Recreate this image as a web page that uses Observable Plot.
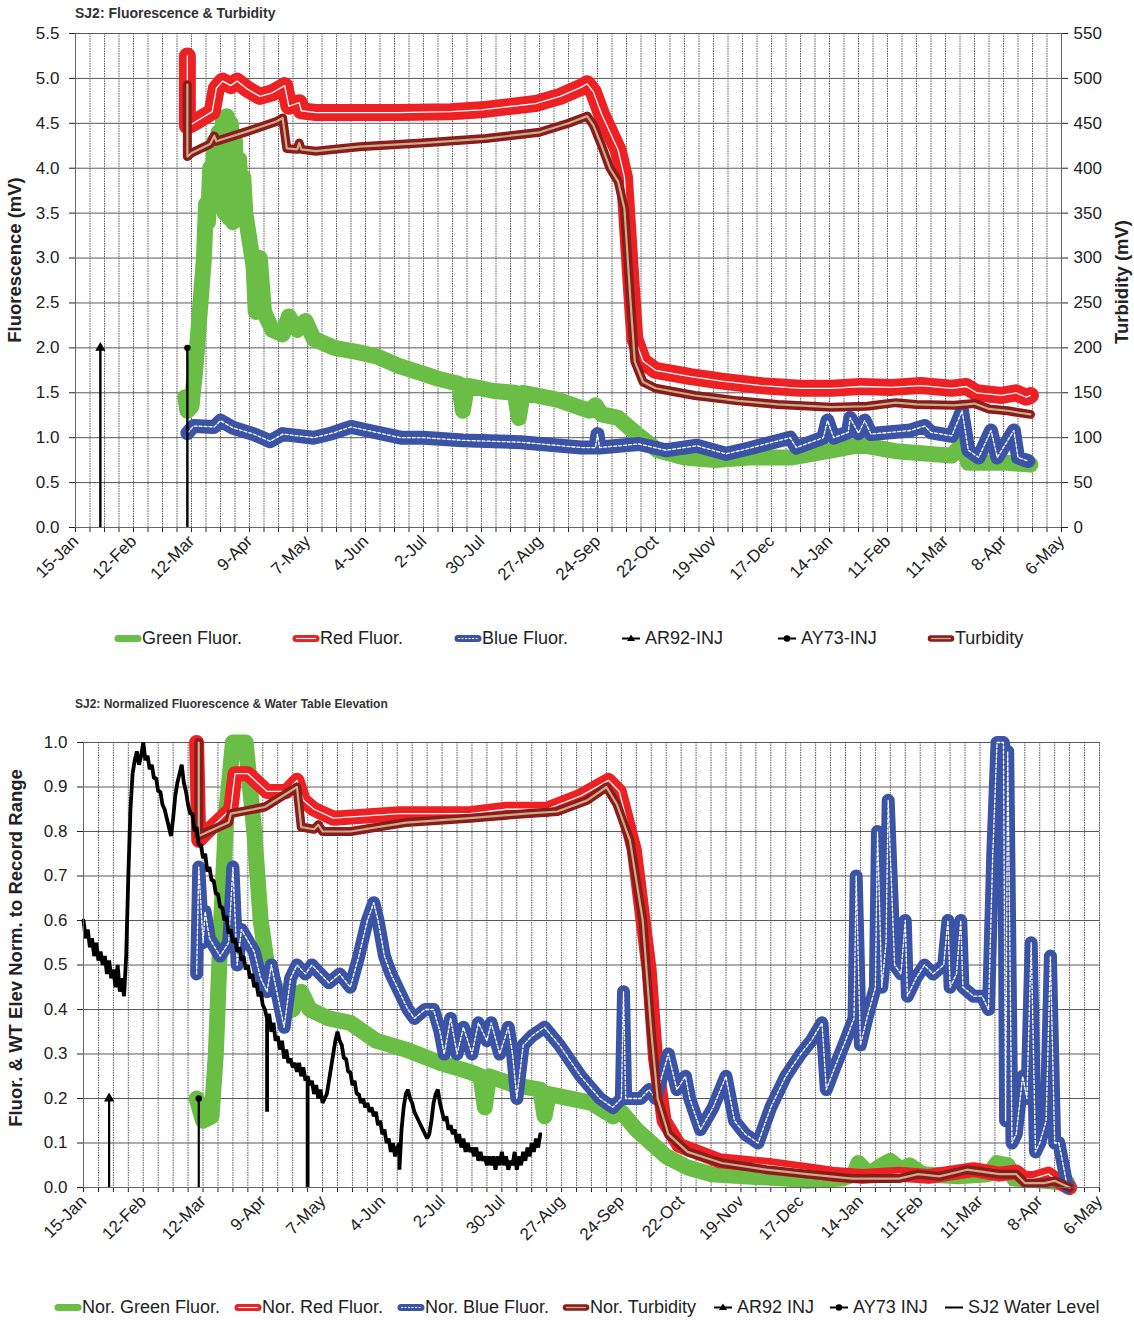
<!DOCTYPE html>
<html><head><meta charset="utf-8">
<script src="https://cdn.jsdelivr.net/npm/d3@7"></script>
<script src="https://cdn.jsdelivr.net/npm/@observablehq/plot@0.6"></script>
<style>
body{margin:0;background:#fff;font-family:"Liberation Sans",Arial,sans-serif;}
#page{position:relative;width:1134px;height:1322px;overflow:hidden;background:#fff;}
.abs{position:absolute;white-space:nowrap;color:#222;}
.title{font-weight:bold;color:#333;}
.ylab{font-weight:bold;font-size:18.5px;color:#222;transform:translate(-50%,-50%) rotate(-90deg);}
.leg{font-size:18px;display:flex;align-items:center;transform:translateY(-50%);color:#222;}
.leg svg{margin-right:1px;}
</style></head><body><div id="page"></div>
<script>
// ---------- axis ticks ----------
const xTickDates = ["2010-01-15","2010-02-12","2010-03-12","2010-04-09","2010-05-07","2010-06-04","2010-07-02","2010-07-30","2010-08-27","2010-09-24","2010-10-22","2010-11-19","2010-12-17","2011-01-14","2011-02-11","2011-03-11","2011-04-08","2011-05-06"];
const xTickLabels = ["15-Jan","12-Feb","12-Mar","9-Apr","7-May","4-Jun","2-Jul","30-Jul","27-Aug","24-Sep","22-Oct","19-Nov","17-Dec","14-Jan","11-Feb","11-Mar","8-Apr","6-May"];
const fluorTicks = [0,0.5,1,1.5,2,2.5,3,3.5,4,4.5,5,5.5];
const turbTicks = [0,50,100,150,200,250,300,350,400,450,500,550];
const normTicks = [0,0.1,0.2,0.3,0.4,0.5,0.6,0.7,0.8,0.9,1.0];

// ---------- top chart: fluorescence (mV) and turbidity (mV) ----------
const greenFluor = [["2010-03-09",1.45],["2010-03-10",1.3],["2010-03-12",1.35],["2010-03-14",1.8],["2010-03-16",2.4],["2010-03-18",3.0],["2010-03-19",3.6],["2010-03-20",3.4],["2010-03-21",4.0],["2010-03-22",3.7],["2010-03-23",4.3],["2010-03-24",3.7],["2010-03-25",4.4],["2010-03-26",3.6],["2010-03-27",4.5],["2010-03-28",3.5],["2010-03-29",4.58],["2010-03-30",3.45],["2010-03-31",4.5],["2010-04-01",3.4],["2010-04-02",4.3],["2010-04-03",3.5],["2010-04-04",4.1],["2010-04-05",3.6],["2010-04-06",3.9],["2010-04-07",3.5],["2010-04-09",3.2],["2010-04-11",2.9],["2010-04-12",2.4],["2010-04-14",3.0],["2010-04-16",2.4],["2010-04-18",2.3],["2010-04-20",2.2],["2010-04-25",2.15],["2010-04-28",2.35],["2010-05-02",2.2],["2010-05-06",2.3],["2010-05-10",2.1],["2010-05-20",2.0],["2010-06-01",1.95],["2010-06-10",1.9],["2010-06-20",1.8],["2010-07-01",1.72],["2010-07-10",1.65],["2010-07-19",1.6],["2010-07-21",1.3],["2010-07-23",1.58],["2010-08-05",1.52],["2010-08-15",1.5],["2010-08-17",1.22],["2010-08-19",1.5],["2010-09-05",1.42],["2010-09-20",1.3],["2010-09-23",1.36],["2010-09-26",1.26],["2010-10-04",1.22],["2010-10-13",1.04],["2010-10-23",0.86],["2010-11-05",0.78],["2010-11-20",0.75],["2010-12-06",0.78],["2010-12-27",0.78],["2011-01-15",0.86],["2011-01-29",0.92],["2011-02-15",0.85],["2011-03-14",0.8],["2011-03-19",0.92],["2011-03-22",0.72],["2011-04-10",0.72],["2011-04-21",0.7]];
const redFluor = [["2010-03-10",5.25],["2010-03-10",4.47],["2010-03-12",4.49],["2010-03-22",4.63],["2010-03-24",4.89],["2010-03-27",4.97],["2010-03-31",4.92],["2010-04-03",4.97],["2010-04-08",4.88],["2010-04-14",4.8],["2010-04-20",4.84],["2010-04-26",4.92],["2010-04-28",4.69],["2010-05-03",4.73],["2010-05-04",4.64],["2010-05-11",4.62],["2010-06-20",4.62],["2010-07-15",4.63],["2010-07-30",4.65],["2010-08-10",4.68],["2010-08-25",4.72],["2010-09-06",4.8],["2010-09-16",4.9],["2010-09-19",4.94],["2010-09-22",4.85],["2010-09-26",4.6],["2010-09-30",4.4],["2010-10-04",4.2],["2010-10-07",3.9],["2010-10-10",2.8],["2010-10-12",2.1],["2010-10-16",1.85],["2010-10-22",1.75],["2010-11-08",1.68],["2010-11-23",1.63],["2010-12-12",1.58],["2010-12-31",1.55],["2011-01-15",1.55],["2011-01-29",1.57],["2011-02-13",1.56],["2011-02-27",1.58],["2011-03-14",1.55],["2011-03-21",1.57],["2011-03-26",1.5],["2011-04-07",1.47],["2011-04-14",1.5],["2011-04-19",1.45],["2011-04-21",1.47]];
const blueFluor = [["2010-03-10",1.05],["2010-03-13",1.13],["2010-03-23",1.12],["2010-03-26",1.19],["2010-04-01",1.11],["2010-04-11",1.04],["2010-04-19",0.96],["2010-04-25",1.04],["2010-05-10",1.0],["2010-05-19",1.05],["2010-05-28",1.12],["2010-06-05",1.08],["2010-06-21",1.0],["2010-07-02",1.0],["2010-07-21",0.97],["2010-08-18",0.95],["2010-09-16",0.89],["2010-09-23",0.89],["2010-09-24",1.04],["2010-09-25",0.89],["2010-10-14",0.93],["2010-10-27",0.86],["2010-11-11",0.91],["2010-11-25",0.82],["2010-12-06",0.88],["2010-12-26",1.0],["2010-12-29",0.89],["2011-01-11",1.0],["2011-01-13",1.19],["2011-01-16",1.0],["2011-01-23",1.06],["2011-01-24",1.22],["2011-01-28",1.05],["2011-01-31",1.19],["2011-02-03",1.04],["2011-02-22",1.08],["2011-03-01",1.13],["2011-03-04",1.06],["2011-03-14",1.02],["2011-03-19",1.3],["2011-03-22",0.86],["2011-03-27",0.78],["2011-04-02",1.08],["2011-04-05",0.78],["2011-04-13",1.08],["2011-04-15",0.78],["2011-04-20",0.74]];
const turbidity = [["2010-03-10",493],["2010-03-10",413],["2010-03-12",417],["2010-03-21",427],["2010-03-23",436],["2010-03-24",430],["2010-04-08",441],["2010-04-22",452],["2010-04-25",456],["2010-04-27",422],["2010-05-02",421],["2010-05-03",428],["2010-05-04",421],["2010-05-11",419],["2010-06-01",424],["2010-07-01",428],["2010-08-01",433],["2010-08-27",440],["2010-09-10",450],["2010-09-19",458],["2010-09-22",448],["2010-09-26",425],["2010-09-30",400],["2010-10-04",385],["2010-10-07",355],["2010-10-10",250],["2010-10-12",185],["2010-10-16",162],["2010-10-22",155],["2010-11-10",147],["2010-12-01",141],["2010-12-20",137],["2011-01-15",134],["2011-02-01",135],["2011-02-15",139],["2011-02-25",137],["2011-03-15",136],["2011-03-25",138],["2011-04-01",132],["2011-04-10",130],["2011-04-15",128],["2011-04-21",126]];
const ar92Inj = [["2010-01-27",2.0]];
const ay73Inj = [["2010-03-10",2.0]];

// ---------- bottom chart: normalized values ----------
const normGreen = [["2010-03-09",0.2],["2010-03-12",0.15],["2010-03-16",0.16],["2010-03-18",0.3],["2010-03-20",0.55],["2010-03-23",0.85],["2010-03-26",1.0],["2010-04-01",1.0],["2010-04-03",0.9],["2010-04-05",0.8],["2010-04-08",0.6],["2010-04-11",0.5],["2010-04-15",0.45],["2010-04-19",0.42],["2010-04-23",0.4],["2010-04-27",0.44],["2010-05-01",0.4],["2010-05-10",0.38],["2010-05-20",0.37],["2010-06-01",0.33],["2010-06-15",0.31],["2010-07-01",0.28],["2010-07-15",0.26],["2010-07-20",0.25],["2010-07-22",0.18],["2010-07-24",0.25],["2010-08-05",0.23],["2010-08-17",0.22],["2010-08-19",0.16],["2010-08-21",0.21],["2010-09-10",0.19],["2010-09-20",0.16],["2010-09-24",0.17],["2010-10-01",0.13],["2010-10-08",0.1],["2010-10-15",0.07],["2010-10-25",0.045],["2010-11-05",0.03],["2010-11-20",0.025],["2010-12-10",0.02],["2010-12-20",0.015],["2011-01-05",0.02],["2011-01-11",0.03],["2011-01-13",0.055],["2011-01-18",0.03],["2011-01-24",0.05],["2011-01-28",0.06],["2011-02-02",0.04],["2011-02-06",0.05],["2011-02-12",0.03],["2011-03-01",0.025],["2011-03-15",0.03],["2011-03-19",0.055],["2011-03-24",0.05],["2011-03-27",0.02],["2011-04-10",0.015],["2011-04-21",0.01]];
const normRed = [["2010-03-09",1.0],["2010-03-10",0.78],["2010-03-14",0.8],["2010-03-25",0.85],["2010-03-27",0.93],["2010-04-02",0.93],["2010-04-11",0.89],["2010-04-20",0.89],["2010-04-25",0.915],["2010-04-28",0.87],["2010-05-03",0.85],["2010-05-12",0.83],["2010-06-12",0.84],["2010-07-15",0.84],["2010-08-01",0.85],["2010-08-20",0.85],["2010-09-05",0.88],["2010-09-18",0.915],["2010-09-23",0.89],["2010-09-30",0.76],["2010-10-07",0.49],["2010-10-10",0.29],["2010-10-14",0.15],["2010-10-21",0.095],["2010-11-09",0.06],["2010-12-01",0.05],["2010-12-17",0.04],["2011-01-01",0.03],["2011-01-15",0.025],["2011-02-01",0.03],["2011-02-15",0.025],["2011-03-01",0.035],["2011-03-08",0.04],["2011-03-20",0.03],["2011-03-28",0.035],["2011-04-01",0.02],["2011-04-05",0.02],["2011-04-12",0.03],["2011-04-18",0.01],["2011-04-22",0.0]];
const normBlue = [["2010-03-09",0.48],["2010-03-10",0.72],["2010-03-12",0.55],["2010-03-13",0.62],["2010-03-15",0.56],["2010-03-20",0.52],["2010-03-24",0.55],["2010-03-26",0.72],["2010-03-28",0.5],["2010-03-30",0.58],["2010-04-05",0.53],["2010-04-08",0.47],["2010-04-11",0.44],["2010-04-13",0.5],["2010-04-16",0.43],["2010-04-19",0.36],["2010-04-22",0.47],["2010-04-25",0.5],["2010-04-29",0.48],["2010-05-02",0.5],["2010-05-06",0.48],["2010-05-10",0.46],["2010-05-15",0.48],["2010-05-20",0.45],["2010-05-24",0.52],["2010-05-28",0.6],["2010-05-31",0.64],["2010-06-02",0.6],["2010-06-05",0.52],["2010-06-08",0.48],["2010-06-12",0.44],["2010-06-16",0.4],["2010-06-19",0.38],["2010-06-24",0.4],["2010-06-28",0.4],["2010-07-01",0.35],["2010-07-03",0.3],["2010-07-06",0.38],["2010-07-09",0.3],["2010-07-12",0.36],["2010-07-16",0.3],["2010-07-19",0.37],["2010-07-23",0.33],["2010-07-25",0.37],["2010-07-29",0.3],["2010-08-02",0.36],["2010-08-04",0.3],["2010-08-06",0.2],["2010-08-09",0.32],["2010-08-13",0.34],["2010-08-19",0.36],["2010-08-26",0.32],["2010-09-05",0.25],["2010-09-14",0.2],["2010-09-20",0.18],["2010-09-24",0.2],["2010-09-25",0.44],["2010-09-26",0.2],["2010-10-03",0.2],["2010-10-07",0.22],["2010-10-10",0.2],["2010-10-16",0.3],["2010-10-20",0.22],["2010-10-24",0.25],["2010-10-26",0.2],["2010-10-31",0.13],["2010-11-06",0.18],["2010-11-12",0.25],["2010-11-16",0.15],["2010-11-21",0.12],["2010-11-27",0.1],["2010-12-03",0.18],["2010-12-10",0.25],["2010-12-17",0.3],["2010-12-22",0.33],["2010-12-27",0.37],["2010-12-29",0.22],["2011-01-02",0.27],["2011-01-07",0.33],["2011-01-11",0.38],["2011-01-12",0.7],["2011-01-14",0.32],["2011-01-17",0.38],["2011-01-21",0.45],["2011-01-22",0.8],["2011-01-24",0.45],["2011-01-26",0.55],["2011-01-27",0.87],["2011-01-30",0.5],["2011-02-02",0.48],["2011-02-04",0.6],["2011-02-05",0.43],["2011-02-09",0.47],["2011-02-13",0.5],["2011-02-17",0.48],["2011-02-22",0.5],["2011-02-24",0.6],["2011-02-25",0.45],["2011-02-28",0.48],["2011-03-02",0.6],["2011-03-03",0.45],["2011-03-08",0.43],["2011-03-12",0.43],["2011-03-15",0.4],["2011-03-17",0.75],["2011-03-19",1.0],["2011-03-22",1.0],["2011-03-23",0.15],["2011-03-24",0.98],["2011-03-26",0.1],["2011-03-28",0.12],["2011-03-31",0.25],["2011-04-02",0.2],["2011-04-04",0.55],["2011-04-06",0.08],["2011-04-08",0.1],["2011-04-11",0.15],["2011-04-13",0.52],["2011-04-15",0.1],["2011-04-17",0.1],["2011-04-19",0.05],["2011-04-21",0.0]];
const normTurbidity = [["2010-03-10",1.0],["2010-03-10",0.79],["2010-03-24",0.82],["2010-03-25",0.84],["2010-04-10",0.855],["2010-04-25",0.9],["2010-04-27",0.81],["2010-05-03",0.805],["2010-05-05",0.815],["2010-05-07",0.8],["2010-05-20",0.8],["2010-06-15",0.82],["2010-07-15",0.83],["2010-08-10",0.84],["2010-08-25",0.845],["2010-09-08",0.87],["2010-09-17",0.9],["2010-09-22",0.86],["2010-09-28",0.78],["2010-10-04",0.6],["2010-10-08",0.35],["2010-10-11",0.2],["2010-10-16",0.12],["2010-10-25",0.08],["2010-11-10",0.055],["2010-12-01",0.04],["2010-12-20",0.03],["2011-01-10",0.02],["2011-02-01",0.02],["2011-02-10",0.03],["2011-02-20",0.025],["2011-03-05",0.04],["2011-03-20",0.03],["2011-03-28",0.03],["2011-04-01",0.01],["2011-04-10",0.01],["2011-04-15",0.015],["2011-04-22",0.0]];
const waterLevel = [["2010-01-15",0.60],["2010-01-16",0.56],["2010-01-17",0.58],["2010-01-18",0.54],["2010-01-19",0.56],["2010-01-20",0.52],["2010-01-21",0.55],["2010-01-22",0.51],["2010-01-23",0.53],["2010-01-24",0.50],["2010-01-25",0.52],["2010-01-26",0.48],["2010-01-27",0.51],["2010-01-28",0.47],["2010-01-29",0.49],["2010-01-30",0.45],["2010-01-31",0.50],["2010-02-01",0.44],["2010-02-02",0.47],["2010-02-03",0.43],["2010-02-04",0.52],["2010-02-05",0.70],["2010-02-06",0.85],["2010-02-07",0.93],["2010-02-08",0.96],["2010-02-09",0.98],["2010-02-10",0.95],["2010-02-11",0.97],["2010-02-12",1.0],["2010-02-13",0.96],["2010-02-14",0.97],["2010-02-15",0.94],["2010-02-16",0.95],["2010-02-17",0.92],["2010-02-18",0.92],["2010-02-19",0.89],["2010-02-20",0.89],["2010-02-21",0.86],["2010-02-22",0.85],["2010-02-23",0.83],["2010-02-24",0.81],["2010-02-25",0.79],["2010-02-26",0.83],["2010-02-27",0.88],["2010-02-28",0.91],["2010-03-01",0.93],["2010-03-02",0.95],["2010-03-03",0.91],["2010-03-04",0.89],["2010-03-05",0.86],["2010-03-06",0.84],["2010-03-07",0.84],["2010-03-08",0.80],["2010-03-09",0.81],["2010-03-10",0.77],["2010-03-11",0.77],["2010-03-12",0.74],["2010-03-13",0.75],["2010-03-14",0.71],["2010-03-15",0.72],["2010-03-16",0.69],["2010-03-17",0.69],["2010-03-18",0.66],["2010-03-19",0.66],["2010-03-20",0.63],["2010-03-21",0.63],["2010-03-22",0.60],["2010-03-23",0.61],["2010-03-24",0.57],["2010-03-25",0.58],["2010-03-26",0.55],["2010-03-27",0.56],["2010-03-28",0.53],["2010-03-29",0.54],["2010-03-30",0.51],["2010-03-31",0.52],["2010-04-01",0.49],["2010-04-02",0.50],["2010-04-03",0.47],["2010-04-04",0.48],["2010-04-05",0.45],["2010-04-06",0.46],["2010-04-07",0.43],["2010-04-08",0.44],["2010-04-09",0.41],["2010-04-10",0.40],["2010-04-11",0.38],["2010-04-11",0.17],["2010-04-11",0.38],["2010-04-12",0.39],["2010-04-13",0.35],["2010-04-14",0.37],["2010-04-15",0.33],["2010-04-16",0.34],["2010-04-17",0.31],["2010-04-18",0.33],["2010-04-19",0.29],["2010-04-20",0.31],["2010-04-21",0.28],["2010-04-22",0.29],["2010-04-23",0.27],["2010-04-24",0.28],["2010-04-25",0.26],["2010-04-26",0.28],["2010-04-27",0.25],["2010-04-28",0.27],["2010-04-29",0.24],["2010-04-30",0.25],["2010-04-30",0.0],["2010-04-30",0.25],["2010-05-01",0.23],["2010-05-02",0.24],["2010-05-03",0.21],["2010-05-04",0.23],["2010-05-05",0.20],["2010-05-06",0.22],["2010-05-07",0.19],["2010-05-08",0.20],["2010-05-09",0.21],["2010-05-10",0.24],["2010-05-11",0.27],["2010-05-12",0.30],["2010-05-13",0.33],["2010-05-14",0.35],["2010-05-15",0.33],["2010-05-16",0.32],["2010-05-17",0.29],["2010-05-18",0.29],["2010-05-19",0.26],["2010-05-20",0.26],["2010-05-21",0.23],["2010-05-22",0.24],["2010-05-23",0.21],["2010-05-24",0.21],["2010-05-25",0.19],["2010-05-26",0.20],["2010-05-27",0.18],["2010-05-28",0.19],["2010-05-29",0.17],["2010-05-30",0.18],["2010-05-31",0.16],["2010-06-01",0.17],["2010-06-02",0.14],["2010-06-03",0.15],["2010-06-04",0.12],["2010-06-05",0.13],["2010-06-06",0.10],["2010-06-07",0.11],["2010-06-08",0.08],["2010-06-09",0.10],["2010-06-10",0.07],["2010-06-11",0.09],["2010-06-12",0.10],["2010-06-12",0.04],["2010-06-13",0.13],["2010-06-14",0.18],["2010-06-15",0.21],["2010-06-16",0.22],["2010-06-17",0.20],["2010-06-18",0.19],["2010-06-19",0.17],["2010-06-20",0.16],["2010-06-21",0.15],["2010-06-22",0.14],["2010-06-23",0.13],["2010-06-24",0.12],["2010-06-25",0.11],["2010-06-26",0.12],["2010-06-27",0.15],["2010-06-28",0.19],["2010-06-29",0.21],["2010-06-30",0.22],["2010-07-01",0.19],["2010-07-02",0.17],["2010-07-03",0.15],["2010-07-04",0.16],["2010-07-05",0.13],["2010-07-06",0.14],["2010-07-07",0.12],["2010-07-08",0.13],["2010-07-09",0.10],["2010-07-10",0.12],["2010-07-11",0.09],["2010-07-12",0.11],["2010-07-13",0.08],["2010-07-14",0.10],["2010-07-15",0.08],["2010-07-16",0.09],["2010-07-17",0.07],["2010-07-18",0.09],["2010-07-19",0.06],["2010-07-20",0.08],["2010-07-21",0.06],["2010-07-22",0.07],["2010-07-23",0.05],["2010-07-24",0.07],["2010-07-25",0.05],["2010-07-26",0.07],["2010-07-27",0.04],["2010-07-28",0.07],["2010-07-29",0.05],["2010-07-30",0.08],["2010-07-31",0.05],["2010-08-01",0.07],["2010-08-02",0.04],["2010-08-03",0.06],["2010-08-04",0.05],["2010-08-05",0.08],["2010-08-06",0.04],["2010-08-07",0.07],["2010-08-08",0.05],["2010-08-09",0.08],["2010-08-10",0.06],["2010-08-11",0.09],["2010-08-12",0.07],["2010-08-13",0.10],["2010-08-14",0.08],["2010-08-15",0.11],["2010-08-16",0.09],["2010-08-17",0.12]];
const normAr92 = [["2010-01-27",0.2]];
const normAy73 = [["2010-03-10",0.2]];

// ---------- colours ----------
const C = {green:"#6abd45", red:"#ed2024", blue:"#3a53a4", turb:"#8a1c1c", tan:"#c8ad86", grid:"#5a5a5a"};

const page = document.getElementById("page");
const P = d => new Date(d);
const start = P(xTickDates[0]), end = P(xTickDates[xTickDates.length-1]);
const weeks = d3.range(0, (end - start)/864e5 + 1, 7).map(k => d3.utcDay.offset(start, k));
const labelMap = new Map(xTickDates.map((d,i)=>[+P(d), xTickLabels[i]]));
const X = d => P(d[0]), Y = d => d[1];

function place(el, x, y){ el.style.left = x+"px"; el.style.top = y+"px"; page.appendChild(el); return el; }
function div(cls, html, x, y, style=""){ const e=document.createElement("div"); e.className="abs "+cls; e.innerHTML=html; e.style.cssText += style; return place(e,x,y); }

function baseMarks(yTicks){
  return [
    Plot.frame({stroke:"#c8c8c8"}),
    Plot.gridX({ticks: weeks, stroke: C.grid, strokeOpacity: 1, strokeDasharray: "1.5,1"}),
    Plot.gridY({ticks: yTicks, stroke: C.grid, strokeOpacity: 1}),
    Plot.axisX({ticks: weeks, tickFormat: d => labelMap.get(+d) ?? "", tickRotate: -45, tickSize: 5, tickPadding: 6, fontSize: 17, label: null}),
  ];
}
function dbl(data, color, width, inner, innerW, dash, yfn=Y){
  const m = [Plot.line(data, {x: X, y: yfn, stroke: color, strokeWidth: width})];
  if (inner) m.push(Plot.line(data, {x: X, y: yfn, stroke: inner, strokeWidth: innerW, strokeDasharray: dash}));
  return m;
}

// ---------- TOP CHART ----------
const turbRatio = turbTicks[turbTicks.length-1] / fluorTicks[fluorTicks.length-1];
const topChart = Plot.plot({
  width: 1134, height: 600,
  marginLeft: 75, marginRight: 73, marginTop: 13, marginBottom: 93,
  style: {fontFamily: '"Liberation Sans", Arial, sans-serif', fontSize: "17px", color: "#222", background: "transparent", overflow: "visible"},
  x: {type: "utc", domain: [start, end]},
  y: {domain: [0, 5.5]},
  marks: [
    ...baseMarks(fluorTicks),
    Plot.axisY({ticks: fluorTicks, tickFormat: d3.format(".1f"), tickSize: 6, tickPadding: 10, fontSize: 17, label: null}),
    Plot.axisY({anchor: "right", ticks: turbTicks.map(t => t/turbRatio), tickFormat: d => String(Math.round(d*turbRatio)), tickSize: 6, tickPadding: 6, fontSize: 17, label: null}),
    ...dbl(greenFluor, C.green, 16),
    ...dbl(redFluor, C.red, 17, "#fff", 1.3),
    ...dbl(blueFluor, C.blue, 14, "#fff", 1.3, "3,2"),
    Plot.ruleX(ar92Inj, {x: X, y1: 0, y2: Y, stroke: "#000", strokeWidth: 2.4}),
    Plot.dot(ar92Inj, {x: X, y: Y, symbol: "triangle", r: 3.8, fill: "#000"}),
    Plot.ruleX(ay73Inj, {x: X, y1: 0, y2: Y, stroke: "#000", strokeWidth: 2.4}),
    Plot.dot(ay73Inj, {x: X, y: Y, symbol: "circle", r: 3.2, fill: "#000"}),
    ...dbl(turbidity, C.turb, 9, C.tan, 2.2, null, d => d[1]/turbRatio),
    Plot.ruleY([0], {stroke: "#666"}),
    Plot.ruleX([start], {stroke: "#666"}),
    Plot.ruleX([end], {stroke: "#666"})
  ]
});
topChart.style.position = "absolute"; topChart.style.left = "0px"; topChart.style.top = "20px";
page.appendChild(topChart);

// ---------- BOTTOM CHART ----------
const botChart = Plot.plot({
  width: 1134, height: 560,
  marginLeft: 83, marginRight: 35, marginTop: 22, marginBottom: 93,
  style: {fontFamily: '"Liberation Sans", Arial, sans-serif', fontSize: "17px", color: "#222", background: "transparent", overflow: "visible"},
  x: {type: "utc", domain: [start, end]},
  y: {domain: [0, 1]},
  marks: [
    ...baseMarks(normTicks),
    Plot.axisY({ticks: normTicks, tickFormat: d3.format(".1f"), tickSize: 6, tickPadding: 10, fontSize: 17, label: null}),
    ...dbl(normGreen, C.green, 16),
    ...dbl(normRed, C.red, 15, "#fff", 1.3),
    ...dbl(normBlue, C.blue, 13, "#fff", 1.3, "3,2"),
    Plot.ruleX(normAr92, {x: X, y1: 0, y2: Y, stroke: "#000", strokeWidth: 2.2}),
    Plot.dot(normAr92, {x: X, y: Y, symbol: "triangle", r: 3.8, fill: "#000"}),
    Plot.ruleX(normAy73, {x: X, y1: 0, y2: Y, stroke: "#000", strokeWidth: 2.2}),
    Plot.dot(normAy73, {x: X, y: Y, symbol: "circle", r: 3.2, fill: "#000"}),
    ...dbl(normTurbidity, C.turb, 9, C.tan, 2.2),
    Plot.line(waterLevel, {x: X, y: Y, stroke: "#000", strokeWidth: 3.8, strokeLinejoin: "miter"}),
    Plot.ruleY([0], {stroke: "#666"}),
    Plot.ruleX([start], {stroke: "#666"})
  ]
});
botChart.style.position = "absolute"; botChart.style.left = "0px"; botChart.style.top = "720px";
page.appendChild(botChart);

// ---------- titles & axis labels ----------
div("title", "SJ2: Fluorescence &amp; Turbidity", 75, 5, "font-size:14px;");
div("title", "SJ2: Normalized Fluorescence &amp; Water Table Elevation", 75, 697, "font-size:12px;");
div("ylab", "Fluorescence (mV)", 15, 260);
div("ylab", "Turbidity (mV)", 1122, 282);
div("ylab", "Fluor. &amp; WT Elev Norm. to Record Range", 16, 948);

// ---------- legends ----------
function swatch(kind){
  const w = 26, h = 12, cy = 6;
  let s = `<svg width="${w}" height="${h}" style="overflow:visible">`;
  if (kind === "green") s += `<line x1="3" y1="${cy}" x2="${w-3}" y2="${cy}" stroke="${C.green}" stroke-width="7" stroke-linecap="round"/>`;
  if (kind === "red") s += `<line x1="3" y1="${cy}" x2="${w-3}" y2="${cy}" stroke="${C.red}" stroke-width="7" stroke-linecap="round"/><line x1="3" y1="${cy}" x2="${w-3}" y2="${cy}" stroke="#fff" stroke-width="1.1"/>`;
  if (kind === "blue") s += `<line x1="3" y1="${cy}" x2="${w-3}" y2="${cy}" stroke="${C.blue}" stroke-width="7" stroke-linecap="round"/><line x1="3" y1="${cy}" x2="${w-3}" y2="${cy}" stroke="#fff" stroke-width="1" stroke-dasharray="2,1.5"/>`;
  if (kind === "turb") s += `<line x1="3" y1="${cy}" x2="${w-3}" y2="${cy}" stroke="${C.turb}" stroke-width="6.5" stroke-linecap="round"/><line x1="3" y1="${cy}" x2="${w-3}" y2="${cy}" stroke="${C.tan}" stroke-width="1.3"/>`;
  if (kind === "tri") s += `<line x1="4" y1="${cy}" x2="${w-4}" y2="${cy}" stroke="#000" stroke-width="2"/><path d="M${w/2-4},${cy+2.5} L${w/2},${cy-4} L${w/2+4},${cy+2.5}Z" fill="#000"/>`;
  if (kind === "dot") s += `<line x1="4" y1="${cy}" x2="${w-4}" y2="${cy}" stroke="#000" stroke-width="2"/><circle cx="${w/2}" cy="${cy}" r="3.3" fill="#000"/>`;
  if (kind === "black") s += `<line x1="4" y1="${cy}" x2="${w-4}" y2="${cy}" stroke="#000" stroke-width="2"/>`;
  return s + "</svg>";
}
// positions are the x where each legend text starts
const topLegend = [["green","Green Fluor.",142],["red","Red Fluor.",320],["blue","Blue Fluor.",482],["tri","AR92-INJ",645],["dot","AY73-INJ",801],["turb","Turbidity",955]];
topLegend.forEach(([k,t,x]) => div("leg", swatch(k)+`<span>${t}</span>`, x-27, 638));
const botLegend = [["green","Nor. Green Fluor.",82],["red","Nor. Red Fluor.",262],["blue","Nor. Blue Fluor.",425],["turb","Nor. Turbidity",590],["tri","AR92 INJ",737],["dot","AY73 INJ",853],["black","SJ2 Water Level",968]];
botLegend.forEach(([k,t,x]) => div("leg", swatch(k)+`<span>${t}</span>`, x-27, 1307));
</script></body></html>
